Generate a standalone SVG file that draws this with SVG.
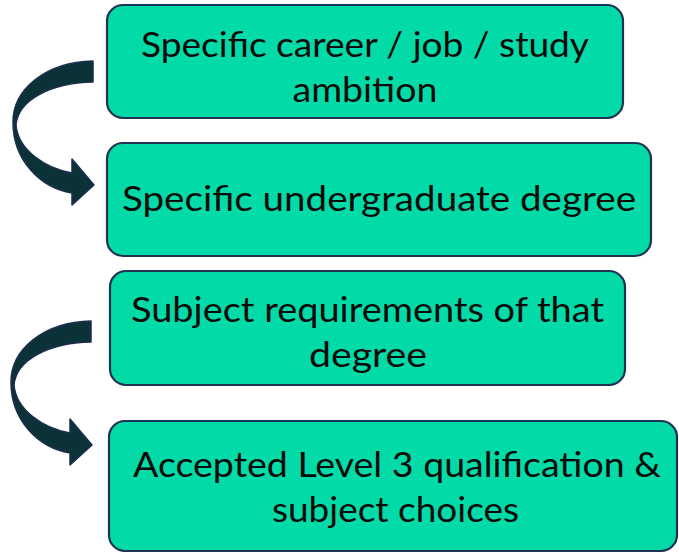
<svg xmlns="http://www.w3.org/2000/svg" width="679" height="553" viewBox="0 0 679 553">
<style>
.box{fill:#02dba7;stroke:#1f3252;stroke-width:2.2}
.t{font-family:Lato,"Noto Sans",sans-serif;font-size:34px;fill:#0a0a0a;text-anchor:middle}
.arrow{fill:#0b3337;stroke:#1d2d50;stroke-width:1.5;stroke-linejoin:round}
.shade{fill:#0e3e42}
</style>
<defs>
<path id="curv" d="M93,61 C45,62 13,90 13,122 C13,160 40,188 72,193 L72,205 L94,185 L72,159 L72,173 C45,168 18,150 16,125 C18,100 50,83 93,82 Z"/>
</defs>
<rect width="679" height="553" fill="#ffffff"/>
<g id="connectors">
<use href="#curv" class="arrow"/>
<use href="#curv" class="arrow" transform="translate(-2,260)"/>
</g>
<g id="node1">
<rect class="box" x="107" y="5" width="516" height="113" rx="16"/>
<text class="t" x="365" y="57" textLength="448" lengthAdjust="spacingAndGlyphs">Specific career / job / study</text>
<text class="t" x="365" y="102" textLength="145" lengthAdjust="spacingAndGlyphs">ambition</text>
</g>
<g id="node2">
<rect class="box" x="107" y="143" width="544" height="113" rx="16"/>
<text class="t" x="379" y="211" textLength="514" lengthAdjust="spacingAndGlyphs">Specific undergraduate degree</text>
</g>
<g id="node3">
<rect class="box" x="110" y="271" width="515" height="114" rx="16"/>
<text class="t" x="367.5" y="322" textLength="473" lengthAdjust="spacingAndGlyphs">Subject requirements of that</text>
<text class="t" x="368" y="367" textLength="118" lengthAdjust="spacingAndGlyphs">degree</text>
</g>
<g id="node4">
<rect class="box" x="109" y="421" width="568" height="130" rx="16"/>
<text class="t" x="397" y="477" textLength="528" lengthAdjust="spacingAndGlyphs">Accepted Level 3 qualification &amp;</text>
<text class="t" x="395.5" y="522" textLength="247" lengthAdjust="spacingAndGlyphs">subject choices</text>
</g>
</svg>
